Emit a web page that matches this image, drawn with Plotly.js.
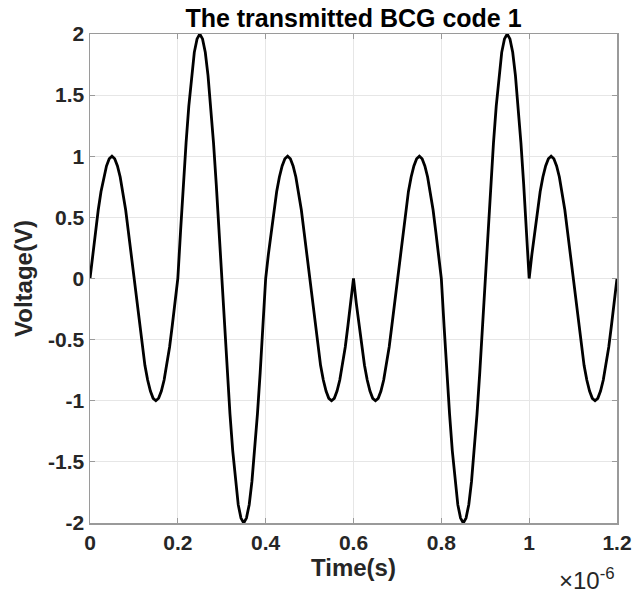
<!DOCTYPE html>
<html>
<head>
<meta charset="utf-8">
<script src="https://cdn.plot.ly/plotly-3.0.1.min.js"></script>
<style>html,body{margin:0;padding:0;background:#fff;}#chart{width:636px;height:593px;}</style>
</head>
<body>
<div id="chart"></div>
<script>
// Time in units of 1e-6 s (axis shows x10^-6)
const timeUs = [
  0,0.00625,0.0125,0.01875,0.025,0.03125,0.0375,0.04375,0.05,0.05625,0.0625,0.06875,0.075,0.08125,0.0875,0.09375,
  0.1,0.10625,0.1125,0.11875,0.125,0.13125,0.1375,0.14375,0.15,0.15625,0.1625,0.16875,0.175,0.18125,0.1875,0.19375,
  0.2,0.20625,0.2125,0.21875,0.225,0.23125,0.2375,0.24375,0.25,0.25625,0.2625,0.26875,0.275,0.28125,0.2875,0.29375,
  0.3,0.30625,0.3125,0.31875,0.325,0.33125,0.3375,0.34375,0.35,0.35625,0.3625,0.36875,0.375,0.38125,0.3875,0.39375,
  0.4,0.40625,0.4125,0.41875,0.425,0.43125,0.4375,0.44375,0.45,0.45625,0.4625,0.46875,0.475,0.48125,0.4875,0.49375,
  0.5,0.50625,0.5125,0.51875,0.525,0.53125,0.5375,0.54375,0.55,0.55625,0.5625,0.56875,0.575,0.58125,0.5875,0.59375,
  0.6,0.60625,0.6125,0.61875,0.625,0.63125,0.6375,0.64375,0.65,0.65625,0.6625,0.66875,0.675,0.68125,0.6875,0.69375,
  0.7,0.70625,0.7125,0.71875,0.725,0.73125,0.7375,0.74375,0.75,0.75625,0.7625,0.76875,0.775,0.78125,0.7875,0.79375,
  0.8,0.80625,0.8125,0.81875,0.825,0.83125,0.8375,0.84375,0.85,0.85625,0.8625,0.86875,0.875,0.88125,0.8875,0.89375,
  0.9,0.90625,0.9125,0.91875,0.925,0.93125,0.9375,0.94375,0.95,0.95625,0.9625,0.96875,0.975,0.98125,0.9875,0.99375,
  1.0,1.00625,1.0125,1.01875,1.025,1.03125,1.0375,1.04375,1.05,1.05625,1.0625,1.06875,1.075,1.08125,1.0875,1.09375,
  1.1,1.10625,1.1125,1.11875,1.125,1.13125,1.1375,1.14375,1.15,1.15625,1.1625,1.16875,1.175,1.18125,1.1875,1.19375,
  1.2
];
// Voltage
const voltage = [
  0,0.2,0.38,0.56,0.71,0.83,0.92,0.98,1,0.98,0.92,0.83,0.71,0.56,0.38,0.2,
  0,-0.2,-0.38,-0.56,-0.71,-0.83,-0.92,-0.98,-1,-0.98,-0.92,-0.83,-0.71,-0.56,-0.38,-0.2,
  0,0.39,0.77,1.11,1.41,1.66,1.85,1.96,2,1.96,1.85,1.66,1.41,1.11,0.77,0.39,
  0,-0.39,-0.77,-1.11,-1.41,-1.66,-1.85,-1.96,-2,-1.96,-1.85,-1.66,-1.41,-1.11,-0.77,-0.39,
  0,0.2,0.38,0.56,0.71,0.83,0.92,0.98,1,0.98,0.92,0.83,0.71,0.56,0.38,0.2,
  0,-0.2,-0.38,-0.56,-0.71,-0.83,-0.92,-0.98,-1,-0.98,-0.92,-0.83,-0.71,-0.56,-0.38,-0.2,
  0,-0.2,-0.38,-0.56,-0.71,-0.83,-0.92,-0.98,-1,-0.98,-0.92,-0.83,-0.71,-0.56,-0.38,-0.2,
  0,0.2,0.38,0.56,0.71,0.83,0.92,0.98,1,0.98,0.92,0.83,0.71,0.56,0.38,0.2,
  0,-0.39,-0.77,-1.11,-1.41,-1.66,-1.85,-1.96,-2,-1.96,-1.85,-1.66,-1.41,-1.11,-0.77,-0.39,
  0,0.39,0.77,1.11,1.41,1.66,1.85,1.96,2,1.96,1.85,1.66,1.41,1.11,0.77,0.39,
  0,0.2,0.38,0.56,0.71,0.83,0.92,0.98,1,0.98,0.92,0.83,0.71,0.56,0.38,0.2,
  0,-0.2,-0.38,-0.56,-0.71,-0.83,-0.92,-0.98,-1,-0.98,-0.92,-0.83,-0.71,-0.56,-0.38,-0.2,
  0
];
const xTickVals = [0,0.2,0.4,0.6,0.8,1,1.2];
const xTickText = ['0','0.2','0.4','0.6','0.8','1','1.2'];
const yTickVals = [-2,-1.5,-1,-0.5,0,0.5,1,1.5,2];
const yTickText = ['-2','-1.5','-1','-0.5','0','0.5','1','1.5','2'];

const FONT = 'Liberation Sans, Arial, Helvetica, sans-serif';
const TXT = '#262626';

const trace = {
  x: timeUs, y: voltage, type: 'scatter', mode: 'lines',
  line: {color: '#000000', width: 2.8},
  hoverinfo: 'none'
};

const axisCommon = {
  showline: true, mirror: 'ticks', linecolor: '#9a9a9a', linewidth: 1.5,
  ticks: 'inside', ticklen: 5, tickwidth: 1, tickcolor: '#9a9a9a',
  showgrid: true, gridcolor: '#e6e6e6', gridwidth: 1,
  zeroline: false, automargin: false,
  tickfont: {family: FONT, size: 21, color: TXT, weight: 'bold'}
};

const layout = {
  width: 636, height: 593,
  margin: {l: 90, r: 19, t: 34, b: 70},
  paper_bgcolor: '#ffffff', plot_bgcolor: '#ffffff',
  showlegend: false,
  title: {
    text: 'The transmitted BCG code 1',
    font: {family: FONT, size: 25, color: '#000', weight: 'bold'},
    x: 0.5, xanchor: 'center', xref: 'paper',
    y: 1 - 18/593, yanchor: 'middle', yref: 'container'
  },
  xaxis: Object.assign({}, axisCommon, {
    range: [0, 1.2], tickmode: 'array', tickvals: xTickVals, ticktext: xTickText,
    title: {text: 'Time(s)', font: {family: FONT, size: 24, color: TXT, weight: 'bold'}, standoff: 2}
  }),
  yaxis: Object.assign({}, axisCommon, {
    range: [-2, 2], tickmode: 'array', tickvals: yTickVals, ticktext: yTickText,
    title: {text: 'Voltage(V)', font: {family: FONT, size: 24, color: TXT, weight: 'bold'}, standoff: 8}
  }),
  annotations: [{
    text: '×10<sup>-6</sup>', xref: 'paper', yref: 'paper',
    x: 1, xanchor: 'right', y: -0.114, yanchor: 'middle', showarrow: false,
    font: {family: FONT, size: 24, color: TXT}
  }]
};

Plotly.newPlot('chart', [trace], layout, {displayModeBar: false, staticPlot: true});
</script>
</body>
</html>
